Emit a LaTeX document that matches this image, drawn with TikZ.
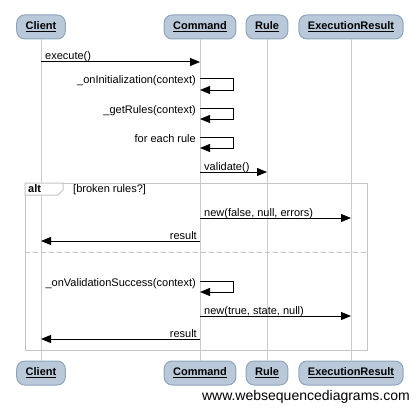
\documentclass[tikz,border=0pt]{standalone}
\usepackage{fontspec}
\setmainfont{Liberation Sans}
\usetikzlibrary{arrows.meta}
\usetikzlibrary{positioning}

\definecolor{boxfill}{HTML}{B9C9D9}
\definecolor{boxline}{HTML}{8FA4BA}
\definecolor{lifegrey}{HTML}{CCCCCC}
\definecolor{framegrey}{HTML}{C4C4C4}

\tikzset{
  actor/.style={draw=boxline, fill=boxfill, rounded corners=8pt, line width=1pt,
    minimum height=24pt, inner xsep=9pt, font=\fontsize{11}{13}\selectfont\bfseries},
  lifeline/.style={draw=lifegrey, line width=1pt},
  msg/.style={draw=black, line width=1pt, -{Triangle[length=10pt,width=8pt]}},
  lbl/.style={inner sep=0pt, font=\fontsize{11}{13}\selectfont},
}

\begin{document}
\begin{tikzpicture}[x=1pt,y=-1pt]
\useasboundingbox (0,0) rectangle (419,409);

% actors: top row
\node[actor] (client top) at (41,27) {\underline{Client}};
\node[actor] (command top) at (200,27) {\underline{Command}};
\node[actor] (rule top) at (267,27) {\underline{Rule}};
\node[actor] (result top) at (351,27) {\underline{ExecutionResult}};

% actors: bottom row
\node[actor] (client bot) at (41,373) {\underline{Client}};
\node[actor] (command bot) at (200,373) {\underline{Command}};
\node[actor] (rule bot) at (267,373) {\underline{Rule}};
\node[actor] (result bot) at (351,373) {\underline{ExecutionResult}};

% lifelines
\draw[lifeline] (client top) -- (client bot);
\draw[lifeline] (command top) -- (command bot);
\draw[lifeline] (rule top) -- (rule bot);
\draw[lifeline] (result top) -- (result bot);

% alt frame
\draw[framegrey, line width=1pt] (25,183) rectangle (367,350);
\filldraw[fill=white, draw=framegrey, line width=1pt] (25,183) -- (63,183) -- (63,190) -- (58,195) -- (25,195) -- cycle;
\node[lbl, anchor=base west, font=\fontsize{11}{13}\selectfont\bfseries] (alt) at (28,192) {alt};
\node[lbl, anchor=base west] (guard) at (73,192) {[broken rules?]};
\draw[framegrey, line width=1pt, dash pattern=on 5pt off 3pt] (25,252) -- (367,252);

% execute()
\coordinate (exec a) at (41,62);
\coordinate (exec b) at (200,62);
\draw[msg] (exec a) -- (exec b);
\node[lbl, anchor=base west] (exec) at (45,60) {execute()};

% self calls on Command
\coordinate (init a) at (200,79);
\coordinate (init b) at (200,90);
\draw[msg] (init a) -- (233,79) -- (233,90) -- (init b);
\node[lbl, anchor=base east] (init) at (196,84) {\_onInitialization(context)};

\coordinate (rules a) at (200,108);
\coordinate (rules b) at (200,119);
\draw[msg] (rules a) -- (233,108) -- (233,119) -- (rules b);
\node[lbl, anchor=base east] (rules) at (196,113) {\_getRules(context)};

\coordinate (each a) at (200,137);
\coordinate (each b) at (200,148);
\draw[msg] (each a) -- (233,137) -- (233,148) -- (each b);
\node[lbl, anchor=base east] (each) at (196,142) {for each rule};

% validate()
\coordinate (val a) at (200,172);
\coordinate (val b) at (267,172);
\draw[msg] (val a) -- (val b);
\node[lbl, anchor=base west] (val) at (204,170) {validate()};

% broken rules
\coordinate (fail a) at (200,218);
\coordinate (fail b) at (351,218);
\draw[msg] (fail a) -- (fail b);
\node[lbl, anchor=base west] (fail) at (204,216) {new(false, null, errors)};

\coordinate (res1 a) at (200,241);
\coordinate (res1 b) at (41,241);
\draw[msg] (res1 a) -- (res1 b);
\node[lbl, anchor=base east] (res1) at (197,239) {result};

% success
\coordinate (succ a) at (200,281);
\coordinate (succ b) at (200,292);
\draw[msg] (succ a) -- (233,281) -- (233,292) -- (succ b);
\node[lbl, anchor=base east] (succ) at (196,286) {\_onValidationSuccess(context)};

\coordinate (ok a) at (200,316);
\coordinate (ok b) at (351,316);
\draw[msg] (ok a) -- (ok b);
\node[lbl, anchor=base west] (ok) at (204,314) {new(true, state, null)};

\coordinate (res2 a) at (200,339);
\coordinate (res2 b) at (41,339);
\draw[msg] (res2 a) -- (res2 b);
\node[lbl, anchor=base east] (res2) at (197,337) {result};

% watermark
\node[lbl, anchor=base east, font=\fontsize{14}{16}\selectfont] (mark) at (410,400) {www.websequencediagrams.com};

\end{tikzpicture}
\end{document}
